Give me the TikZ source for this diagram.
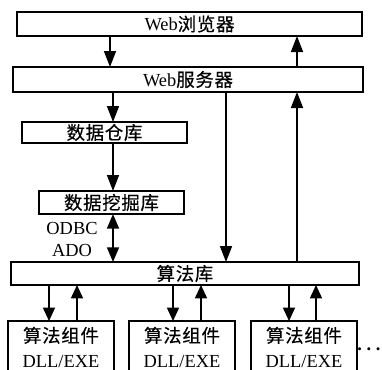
\documentclass[tikz,border=0pt]{standalone}
\usepackage{fontspec}
\setmainfont{Liberation Serif}
\newfontfamily\cjkfam[LetterSpace=4,BoldFont={Noto Sans CJK SC},BoldFeatures={FakeBold=0.4,LetterSpace=4}]{Noto Sans CJK SC}
\newcommand\cjk[1]{{\cjkfam\bfseries #1}}
\usetikzlibrary{arrows.meta}
\def\u{0.75pt}
\tikzset{
  box/.style={draw, line width=1.2pt, inner sep=0pt, outer sep=0pt, anchor=north west, align=center},
  arr/.style={line width=1.2pt, -{Triangle[width=9pt,length=12pt]}},
  sarr/.style={line width=1.2pt, -{Triangle[width=9pt,length=10pt]}},
  darr/.style={line width=1.2pt, {Triangle[width=9pt,length=11pt]}-{Triangle[width=9pt,length=11pt]}},
  lbl/.style={inner sep=0pt}
}
\begin{document}
\begin{tikzpicture}[x=0.75pt,y=-0.75pt,font=\fontsize{13.8}{16.5}\selectfont]
\useasboundingbox (0,0) rectangle (382,369);
\clip (0,0) rectangle (382,369);
% boxes
\node[box, minimum width=345*\u, minimum height=24*\u] (b1) at (17,12) {Web\cjk{浏览器}};
\node[box, minimum width=350*\u, minimum height=25*\u] (b2) at (13,67) {Web\cjk{服务器}};
\node[box, minimum width=165*\u, minimum height=21*\u] (b3) at (22,122) {\cjk{数据仓库}};
\node[box, minimum width=145*\u, minimum height=23*\u] (b4) at (39,191) {\cjk{数据挖掘库}};
\node[box, minimum width=348*\u, minimum height=23*\u] (b5) at (11,262) {\cjk{算法库}};
\node[box, minimum width=106*\u, minimum height=52*\u] (c1) at (8,321) {\cjk{算法组件}\\[2pt]DLL/EXE};
\node[box, minimum width=106*\u, minimum height=52*\u] (c2) at (129,321) {\cjk{算法组件}\\[2pt]DLL/EXE};
\node[box, minimum width=106*\u, minimum height=52*\u] (c3) at (251,321) {\cjk{算法组件}\\[2pt]DLL/EXE};
% x positions
\coordinate (xa) at (110,0);
\coordinate (xb) at (297,0);
\coordinate (xc) at (113,0);
\coordinate (xd) at (226,0);
\coordinate (d1) at (49,0);
\coordinate (u1) at (77,0);
\coordinate (d2) at (173,0);
\coordinate (u2) at (201,0);
\coordinate (d3) at (289,0);
\coordinate (u3) at (316,0);
% arrows
\draw[arr] (b1.south -| xa) -- (b2.north -| xa);
\draw[arr] (b2.north -| xb) -- (b1.south -| xb);
\draw[arr] (b2.south -| xc) -- (b3.north -| xc);
\draw[arr] (b2.south -| xd) -- (b5.north -| xd);
\draw[arr] (b5.north -| xb) -- (b2.south -| xb);
\draw[arr] (b3.south -| xc) -- (b4.north -| xc);
\draw[darr] (b4.south -| xc) -- (b5.north -| xc);
\draw[sarr] (b5.south -| d1) -- (c1.north -| d1);
\draw[sarr] (c1.north -| u1) -- (b5.south -| u1);
\draw[sarr] (b5.south -| d2) -- (c2.north -| d2);
\draw[sarr] (c2.north -| u2) -- (b5.south -| u2);
\draw[sarr] (b5.south -| d3) -- (c3.north -| d3);
\draw[sarr] (c3.north -| u3) -- (b5.south -| u3);
% labels
\node[lbl] (odbc) at (72,228) {ODBC};
\node[lbl] (ado) at (72,250) {ADO};
\node[lbl, anchor=base] (dots) at (369,350) {\textbf{.\hspace{3.5pt}.\hspace{3.5pt}.}};
\end{tikzpicture}
\end{document}
